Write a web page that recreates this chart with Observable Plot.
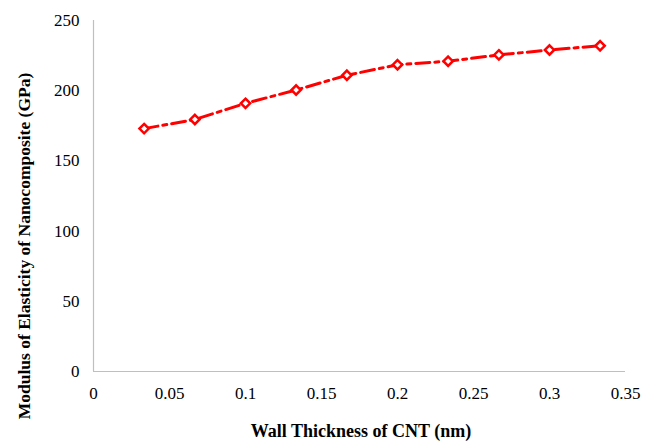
<!DOCTYPE html>
<html>
<head>
<meta charset="utf-8">
<script src="https://cdn.jsdelivr.net/npm/d3@7"></script>
<script src="https://cdn.jsdelivr.net/npm/@observablehq/plot@0.6"></script>
<style>
  html, body { margin: 0; padding: 0; background: #fff; }
  #chart { width: 652px; height: 441px; }
  #chart svg, #chart svg text { font-family: "Liberation Serif", "DejaVu Serif", "Times New Roman", serif !important; }
</style>
</head>
<body>
<div id="chart"></div>
<script>
const thickness = [0.0333, 0.0667, 0.1, 0.1333, 0.1667, 0.2, 0.2333, 0.2667, 0.3, 0.3333];
const modulus = [173, 179.5, 191, 200.5, 211, 218.5, 221, 225.5, 229, 232];
const xTicks = [0, 0.05, 0.1, 0.15, 0.2, 0.25, 0.3, 0.35];
const yTicks = [0, 50, 100, 150, 200, 250];
const xTickLabels = ["0", "0.05", "0.1", "0.15", "0.2", "0.25", "0.3", "0.35"];
const yTickLabels = ["0", "50", "100", "150", "200", "250"];

const data = thickness.map((t, i) => ({x: t, y: modulus[i]}));

const chart = Plot.plot({
  width: 652,
  height: 441,
  marginLeft: 93,
  marginRight: 27,
  marginTop: 20,
  marginBottom: 70,
  style: {fontSize: "17px", color: "#000", background: "#fff"},
  x: {domain: [0, 0.35]},
  y: {domain: [0, 250]},
  marks: [
    Plot.ruleX([0], {stroke: "#bfbfbf", strokeWidth: 1.2}),
    Plot.ruleY([0], {stroke: "#bfbfbf", strokeWidth: 1.2}),
    Plot.axisX({ticks: xTicks, tickSize: 0, tickPadding: 15, fontSize: 17, label: null,
      tickFormat: d => xTickLabels[xTicks.indexOf(d)]}),
    Plot.axisY({ticks: yTicks, tickSize: 0, tickPadding: 14, fontSize: 17, label: null,
      tickFormat: d => yTickLabels[yTicks.indexOf(d)]}),
    Plot.line(data, {x: "x", y: "y", stroke: "#ff0000", strokeWidth: 3, strokeDasharray: "14,5,4,5"}),
    Plot.dot(data, {x: "x", y: "y", symbol: "diamond2", r: 4.2, fill: "#fff", stroke: "#ff0000", strokeWidth: 2.5})
  ]
});

const svg = d3.select(chart);
svg.append("text")
  .attr("x", 361).attr("y", 437)
  .attr("text-anchor", "middle")
  .attr("font-weight", "bold").attr("font-size", 18)
  .text("Wall Thickness of CNT (nm)");
svg.append("text")
  .attr("transform", "translate(30,246) rotate(-90)")
  .attr("text-anchor", "middle")
  .attr("font-weight", "bold").attr("font-size", 17.5)
  .text("Modulus of Elasticity of Nanocomposite (GPa)");

document.getElementById("chart").appendChild(chart);
</script>
</body>
</html>
